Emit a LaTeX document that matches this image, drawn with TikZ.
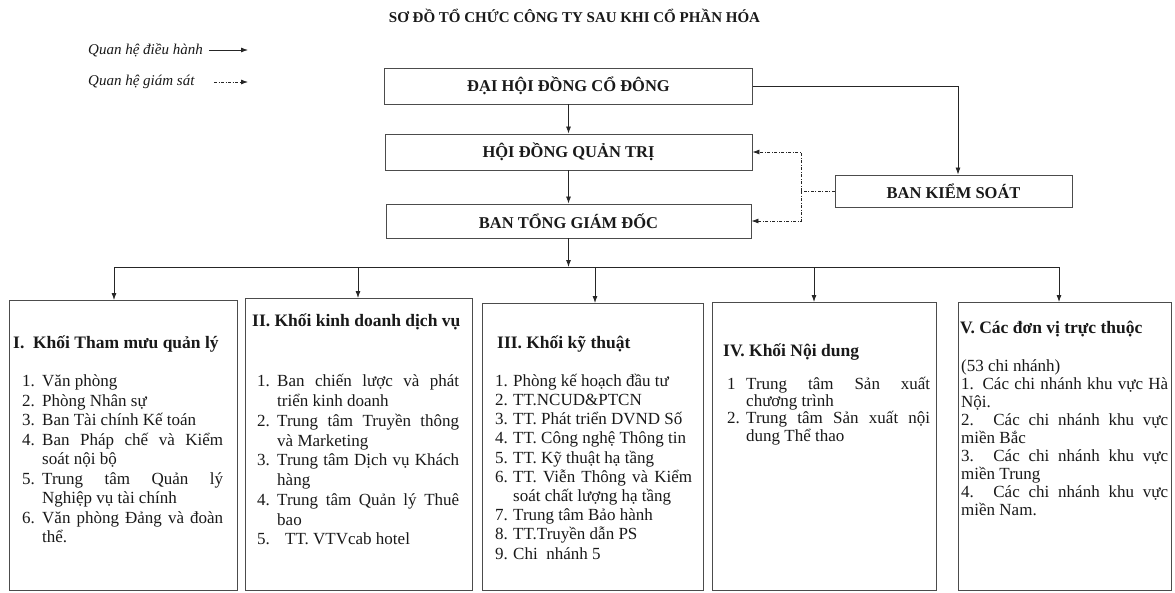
\documentclass[tikz,border=0pt]{standalone}
\usepackage{fontspec}
\setmainfont{Liberation Serif}
\usetikzlibrary{arrows.meta}
\tolerance=10000
\hbadness=10000
\newcommand\Itm[3]{\par\hangindent=#1\hangafter=1\noindent\makebox[#1][l]{#2}#3\par}
\newcommand\Lnn[1]{\par\noindent #1\par}
\begin{document}
\begin{tikzpicture}[x=1pt,y=-1pt,
  box/.style={draw=black!70,line width=0.9pt,rectangle,inner sep=0pt},
  arr/.style={draw=black!85,line width=0.8pt,-{Latex[length=7pt,width=5pt]}},
  ln/.style={draw=black!85,line width=0.8pt},
  sup/.style={draw=black!85,line width=0.8pt,dash pattern=on 3pt off 1.5pt on 1pt off 1.5pt},
  supa/.style={sup,-{Latex[length=7pt,width=5pt]}},
  hd/.style={font=\bfseries\fontsize{16.5}{18}\selectfont,text=black!90},
  bh/.style={font=\bfseries\fontsize{17.5}{20}\selectfont,anchor=base west,inner sep=0pt,text=black!90},
  blk/.style={anchor=base west,inner sep=0pt,align=justify,text=black!90},
  lg/.style={font=\itshape\fontsize{15}{17}\selectfont,anchor=west,inner sep=0pt,text=black!90}
]
\useasboundingbox[fill=white] (0,0) rectangle (1175,592);

% title
\node[font=\bfseries\fontsize{15}{17}\selectfont,text=black!90,inner sep=0pt] (title) at (574.5,16) {SƠ ĐỒ TỔ CHỨC CÔNG TY SAU KHI CỔ PHẦN HÓA};

% legend
\node[lg] (lg1) at (88,50) {Quan hệ điều hành};
\node[lg] (lg2) at (88,82) {Quan hệ giám sát};
\coordinate (lg1e) at (248,50);
\coordinate (lg2e) at (248,82);
\coordinate (lg2s) at (214,82);
\draw[arr] ([xshift=6pt]lg1.east) -- (lg1e);
\draw[supa] (lg2s) -- (lg2e);

% top boxes
\node[box,hd,minimum width=368,minimum height=36] (dhd) at (568.5,86) {ĐẠI HỘI ĐỒNG CỔ ĐÔNG};
\node[box,hd,minimum width=367,minimum height=36] (hdqt) at (568.5,152) {HỘI ĐỒNG QUẢN TRỊ};
\node[box,hd,minimum width=365,minimum height=34] (btgd) at (568.5,221) {BAN TỔNG GIÁM ĐỐC};
\node[box,hd,minimum width=237,minimum height=32] (bks) at (953.5,191) {BAN KIỂM SOÁT};

\draw[arr] (dhd.south) -- (hdqt.north);
\draw[arr] (hdqt.south) -- (btgd.north);
\coordinate (bkx) at (958,86);
\draw[arr] (dhd.east) -- (bkx) -- (bkx |- bks.north);
\coordinate (sj) at (801,191);
\draw[sup] (bks.west) -- (sj);
\draw[supa] (sj) |- (hdqt.east);
\draw[supa] (sj) |- (btgd.east);

% lower boxes
\node[box,minimum width=228,minimum height=290,anchor=north west] (k1) at (9,300) {};
\node[box,minimum width=227,minimum height=292,anchor=north west] (k2) at (245,298) {};
\node[box,minimum width=221,minimum height=287,anchor=north west] (k3) at (482,303) {};
\node[box,minimum width=224,minimum height=288,anchor=north west] (k4) at (712,302) {};
\node[box,minimum width=213,minimum height=288,anchor=north west] (k5) at (958,302) {};

% bus
\coordinate (bus) at (568.5,267);
\coordinate (d1) at (114,267);
\coordinate (d2) at (358,267);
\coordinate (d3) at (595,267);
\coordinate (d4) at (814,267);
\coordinate (d5) at (1059,267);
\draw[arr] (btgd.south) -- (bus);
\draw[ln] (d1) -- (d5);
\draw[arr] (d1) -- (d1 |- k1.north);
\draw[arr] (d2) -- (d2 |- k2.north);
\draw[arr] (d3) -- (d3 |- k3.north);
\draw[arr] (d4) -- (d4 |- k4.north);
\draw[arr] (d5) -- (d5 |- k5.north);

% box I
\node[bh] (h1) at (13,348) {I.\ \ Khối Tham mưu quản lý};
\node[blk,text width=201,font=\fontsize{17}{19.5}\selectfont] (t1) at (22,367) {%
\Itm{20pt}{1.}{Văn phòng}%
\Itm{20pt}{2.}{Phòng Nhân sự}%
\Itm{20pt}{3.}{Ban Tài chính Kế toán}%
\Itm{20pt}{4.}{Ban Pháp chế và Kiểm\linebreak soát nội bộ}%
\Itm{20pt}{5.}{Trung tâm Quản lý\linebreak Nghiệp vụ tài chính}%
\Itm{20pt}{6.}{Văn phòng Đảng và đoàn\linebreak thể.}};

% box II
\node[bh] (h2) at (252,326) {II. Khối kinh doanh dịch vụ};
\node[blk,text width=202,font=\fontsize{17}{19.75}\selectfont] (t2) at (257,367) {%
\Itm{20pt}{1.}{Ban chiến lược và phát\linebreak triển kinh doanh}%
\Itm{20pt}{2.}{Trung tâm Truyền thông\linebreak và Marketing}%
\Itm{20pt}{3.}{Trung tâm Dịch vụ Khách\linebreak hàng}%
\Itm{20pt}{4.}{Trung tâm Quản lý Thuê\linebreak bao}%
\Itm{20pt}{5.}{\hspace*{8pt}TT. VTVcab hotel}};

% box III
\node[bh] (h3) at (497,348) {III. Khối kỹ thuật};
\node[blk,text width=197,font=\fontsize{17}{19.2}\selectfont] (t3) at (495,367) {%
\Itm{18pt}{1.}{Phòng kế hoạch đầu tư}%
\Itm{18pt}{2.}{TT.NCUD\&PTCN}%
\Itm{18pt}{3.}{TT. Phát triển DVND Số}%
\Itm{18pt}{4.}{TT. Công nghệ Thông tin}%
\Itm{18pt}{5.}{TT. Kỹ thuật hạ tầng}%
\Itm{18pt}{6.}{TT. Viễn Thông và Kiểm\linebreak soát chất lượng hạ tầng}%
\Itm{18pt}{7.}{Trung tâm Bảo hành}%
\Itm{18pt}{8.}{TT.Truyền dẫn PS}%
\Itm{18pt}{9.}{Chi\ \ nhánh 5}};

% box IV
\node[bh] (h4) at (723,356) {IV. Khối Nội dung};
\node[blk,text width=203,font=\fontsize{17}{17.3}\selectfont] (t4) at (727,372) {%
\Itm{19pt}{1}{Trung tâm Sản xuất\linebreak chương trình}%
\Itm{19pt}{2.}{Trung tâm Sản xuất nội\linebreak dung Thể thao}};

% box V
\node[bh] (h5) at (960,333) {V. Các đơn vị trực thuộc};
\node[blk,text width=207,font=\fontsize{17}{18}\selectfont] (t5) at (961,353) {%
\Lnn{(53 chi nhánh)}%
\Lnn{1. Các chi nhánh khu vực Hà\linebreak Nội.}%
\Lnn{2. Các chi nhánh khu vực\linebreak miền Bắc}%
\Lnn{3. Các chi nhánh khu vực\linebreak miền Trung}%
\Lnn{4. Các chi nhánh khu vực\linebreak miền Nam.}};
\end{tikzpicture}
\end{document}
